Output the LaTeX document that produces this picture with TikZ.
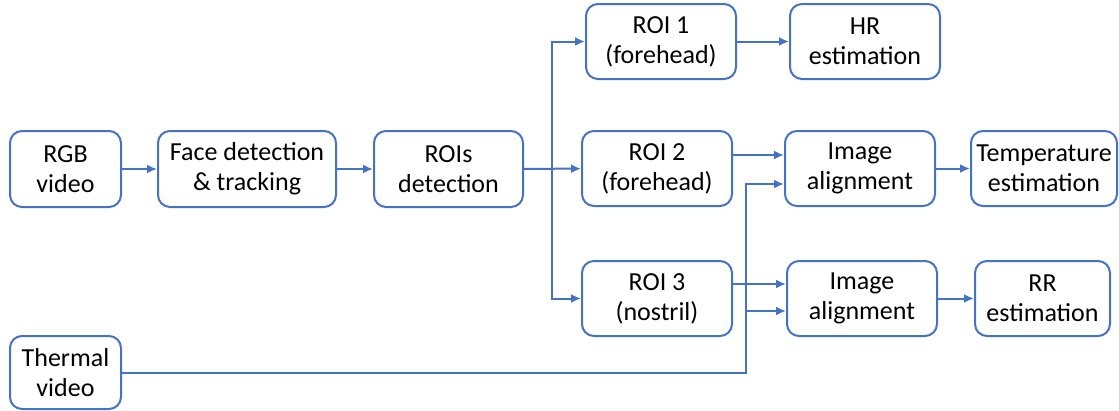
\documentclass[tikz,border=0pt]{standalone}
\usepackage{fontspec}
\setmainfont{Carlito}
\usetikzlibrary{arrows.meta}
\definecolor{lineblue}{RGB}{68,114,196}
\tikzset{
	blk/.style={draw=lineblue, line width=2pt, rounded corners=12pt, align=center,
		inner sep=0pt, minimum width=150pt, minimum height=75pt, font=\fontsize{26}{30}\selectfont},
	ln/.style={lineblue, line width=2pt},
	tip/.style={-{Latex[length=10pt,width=9pt]}}
}

\begin{document}
\begin{tikzpicture}[x=1pt,y=-1pt]
		\useasboundingbox (0,0) rectangle (1119,410);
		\node[blk, minimum width=111pt, minimum height=76pt] (rgb) at (65.5,169) {RGB\\video};
		\node[blk, minimum width=178pt, minimum height=76pt] (face) at (247,169) {Face detection\\\& tracking};
		\node[blk, minimum width=149pt, minimum height=76pt] (rois) at (448.5,169) {ROIs\\detection};
		\node[blk] (roi1) at (661,41.5) {ROI 1\\(forehead)};
		\node[blk] (hr) at (865,41.5) {HR\\estimation};
		\node[blk] (roi2) at (657,168.5) {ROI 2\\(forehead)};
		\node[blk] (align1) at (860,168.5) {Image\\alignment};
		\node[blk, minimum width=146pt] (temp) at (1044,168.5) {Temperature\\estimation};
		\node[blk] (roi3) at (657,298.5) {ROI 3\\(nostril)};
		\node[blk] (align2) at (862,298.5) {Image\\alignment};
		\node[blk, minimum width=135pt] (rr) at (1042.5,298.5) {RR\\estimation};
		\node[blk, minimum width=111pt, minimum height=73pt] (thermal) at (65.5,372.5) {Thermal\\video};
		\coordinate (split) at (552,169);
		\coordinate (tjoin) at (746,184);
		\coordinate (tfork) at (746,311);
		\draw [ln][tip] (rgb) -- (face);
		\draw [ln][tip] (face) -- (rois);
		\draw [ln][tip] (rois) -- (roi2);
		\draw [ln][tip] (split) |- (roi1);
		\draw [ln][tip] (split) |- (roi3);
		\draw [ln][tip] (roi1) -- (hr);
		\draw [ln][tip] ([yshift=13.5pt]roi2.east) -- ([yshift=13.5pt]align1.west);
		\draw [ln][tip] ([yshift=14.5pt]roi3.east) -- ([yshift=14.5pt]align2.west);
		\draw [ln][tip] (thermal) -| (tjoin) -- (align1.west |- tjoin);
		\draw [ln][tip] (tfork) -- (align2.west |- tfork);
		\draw [ln][tip] (align1) -- (temp);
		\draw [ln][tip] (align2) -- (rr);
	\end{tikzpicture}
\end{document}
